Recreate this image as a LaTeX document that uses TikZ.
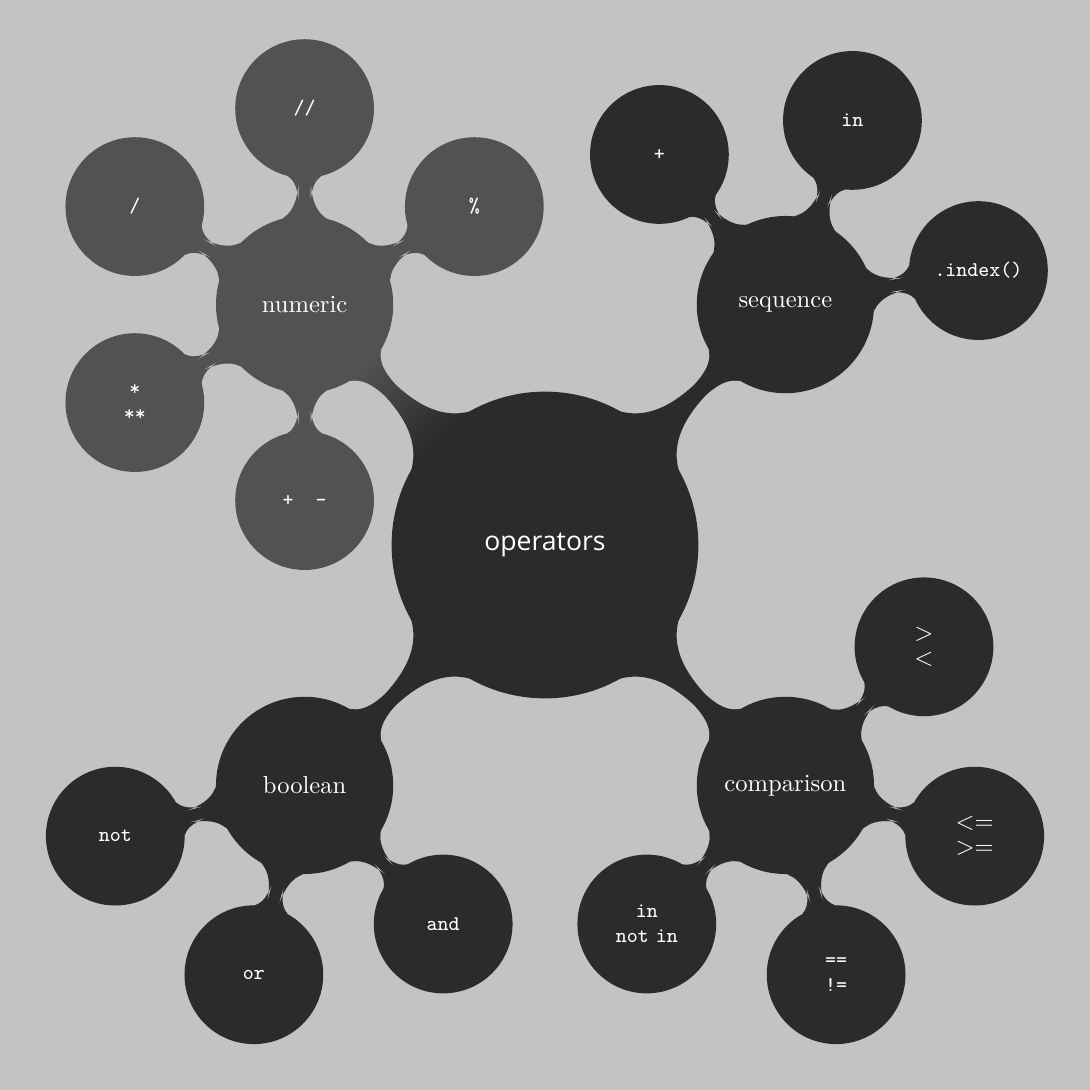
\documentclass[tikz,border=0pt]{standalone}
\usepackage{fontspec}
\usepackage{tikz}
\usetikzlibrary{mindmap}
\newfontfamily\rootfont{Open Sans}
\definecolor{opbg}{HTML}{C3C3C3}
\definecolor{opdark}{HTML}{2B2B2B}
\definecolor{opmid}{HTML}{525252}
\newcommand{\oprel}[1]{{\normalsize$#1$}}

\begin{document}
\begin{tikzpicture}[
  mindmap,
  every node/.style={concept, text=white, align=center, inner sep=0pt},
  rootnode/.style={concept color=opdark, minimum size=4.34cm, text width=3cm, font=\rootfont\fontsize{10.8}{13}\selectfont},
  topicnode/.style={minimum size=2.49cm, text width=2.1cm, font=\normalsize},
  opnode/.style={minimum size=1.94cm, text width=1.4cm, font=\fontsize{8.5}{10}\selectfont\ttfamily},
  darkbar/.style={circle connection bar switch color=from (opdark) to (opdark)},
  midbar/.style={circle connection bar switch color=from (opmid) to (opmid)}
]

%% ── Distances ────────────────────────────────────────────────────────
\def\dOne{4.857}   % root -> topic
\def\dTwo{2.8}     % topic -> operator

%% ── Background ───────────────────────────────────────────────────────
\useasboundingbox (-7.786,-7.786) rectangle (7.786,7.786);
\fill[opbg] (-7.786,-7.786) rectangle (7.786,7.786);

%% ── Root ─────────────────────────────────────────────────────────────
\node[rootnode] (ops) at (0,0) {operators};

%% ── Topics ───────────────────────────────────────────────────────────
\node[topicnode, concept color=opmid]  (numeric) at (135:\dOne) {numeric};
\node[topicnode, concept color=opdark] (seq)     at (45:\dOne)  {sequence};
\node[topicnode, concept color=opdark] (bool)    at (225:\dOne) {boolean};
\node[topicnode, concept color=opdark] (cmp)     at (315:\dOne) {comparison};

%% ── Numeric operators ────────────────────────────────────────────────
\node[opnode, concept color=opmid] (nFloor) at ([shift={(90:\dTwo)}]numeric)  {//};
\node[opnode, concept color=opmid] (nMod)   at ([shift={(30:\dTwo)}]numeric)  {\%};
\node[opnode, concept color=opmid] (nDiv)   at ([shift={(150:\dTwo)}]numeric) {/};
\node[opnode, concept color=opmid] (nMul)   at ([shift={(210:\dTwo)}]numeric) {*\\{}**};
\node[opnode, concept color=opmid] (nAdd)   at ([shift={(270:\dTwo)}]numeric) {+\hspace{9pt}-};

%% ── Sequence operators ───────────────────────────────────────────────
\node[opnode, concept color=opdark] (sCat)   at ([shift={(130:\dTwo)}]seq) {+};
\node[opnode, concept color=opdark] (sIn)    at ([shift={(70:\dTwo)}]seq)  {in};
\node[opnode, concept color=opdark] (sIndex) at ([shift={(10:\dTwo)}]seq)  {.index()};

%% ── Boolean operators ────────────────────────────────────────────────
\node[opnode, concept color=opdark] (bNot) at ([shift={(195:\dTwo)}]bool) {not};
\node[opnode, concept color=opdark] (bOr)  at ([shift={(255:\dTwo)}]bool) {or};
\node[opnode, concept color=opdark] (bAnd) at ([shift={(315:\dTwo)}]bool) {and};

%% ── Comparison operators ─────────────────────────────────────────────
\node[opnode, concept color=opdark] (cLt) at ([shift={(45:\dTwo)}]cmp)   {\oprel{>}\\\oprel{<}};
\node[opnode, concept color=opdark] (cLe) at ([shift={(-15:\dTwo)}]cmp)  {\oprel{<=}\\\oprel{>=}};
\node[opnode, concept color=opdark] (cEq) at ([shift={(-75:\dTwo)}]cmp)  {==\\!=};
\node[opnode, concept color=opdark] (cIn) at ([shift={(-135:\dTwo)}]cmp) {in\\not in};

%% ── Connection bars ──────────────────────────────────────────────────
\path (ops) to[circle connection bar switch color=from (opdark) to (opmid)] (numeric);
\path (ops) to[darkbar] (seq);
\path (ops) to[darkbar] (bool);
\path (ops) to[darkbar] (cmp);

\path (numeric) to[midbar] (nFloor);
\path (numeric) to[midbar] (nMod);
\path (numeric) to[midbar] (nDiv);
\path (numeric) to[midbar] (nMul);
\path (numeric) to[midbar] (nAdd);

\path (seq) to[darkbar] (sCat);
\path (seq) to[darkbar] (sIn);
\path (seq) to[darkbar] (sIndex);

\path (bool) to[darkbar] (bNot);
\path (bool) to[darkbar] (bOr);
\path (bool) to[darkbar] (bAnd);

\path (cmp) to[darkbar] (cLt);
\path (cmp) to[darkbar] (cLe);
\path (cmp) to[darkbar] (cEq);
\path (cmp) to[darkbar] (cIn);

\end{tikzpicture}
\end{document}
